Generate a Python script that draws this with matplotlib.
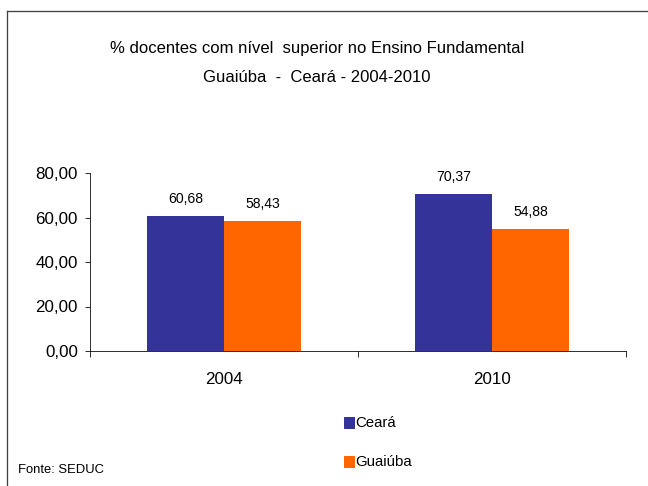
import numpy as np
import matplotlib.pyplot as plt
from matplotlib.lines import Line2D
from matplotlib.patches import Rectangle

plt.rcParams['font.family'] = ['Liberation Sans', 'DejaVu Sans']

# data
years = ['2004', '2010']
ceara = [60.68, 70.37]
guaiuba = [58.43, 54.88]
series_names = ['Ceará', 'Guaiúba']
colors = ['#333399', '#FF6600']
yticks = [0, 20, 40, 60, 80]

fig = plt.figure(figsize=(9, 6.75), dpi=72)
W, H = 648, 486

# outer frame (top and left edges visible)
fig.add_artist(Line2D([7 / W, 7 / W], [0, 1 - 10.5 / H], transform=fig.transFigure, color='#404040', lw=1.3))
fig.add_artist(Line2D([7 / W, 1], [1 - 10.5 / H, 1 - 10.5 / H], transform=fig.transFigure, color='#404040', lw=1.3))

ax = fig.add_axes([90 / W, 1 - 351 / H, (626 - 90) / W, (351 - 173) / H])

x = np.arange(len(years))
w = 0.288
b1 = ax.bar(x - w / 2, ceara, w, color=colors[0], label=series_names[0])
b2 = ax.bar(x + w / 2, guaiuba, w, color=colors[1], label=series_names[1])

for bars, vals in [(b1, ceara), (b2, guaiuba)]:
    for r, v in zip(bars, vals):
        ax.annotate(f'{v:.2f}'.replace('.', ','), (r.get_x() + r.get_width() / 2, v),
                    xytext=(0, 10), textcoords='offset points', ha='center', va='bottom', fontsize=14)

ax.set_xlim(-0.5, 1.5)
ax.set_ylim(0, 80)
ax.set_yticks(yticks)
ax.set_yticklabels([f'{t:.2f}'.replace('.', ',') for t in yticks], fontsize=17)
ax.set_xticks([-0.5, 0.5, 1.5])
ax.set_xticklabels([])
ax.set_xticks(x, minor=True)
ax.set_xticklabels(years, minor=True, fontsize=17)
ax.tick_params(axis='x', which='minor', length=0, pad=21)
ax.tick_params(axis='x', which='major', direction='out', length=6)
ax.tick_params(axis='y', direction='out', length=5, pad=7)
for s in ['top', 'right']:
    ax.spines[s].set_visible(False)

# titles
fig.text(317 / W, 1 - 48 / H, '% docentes com nível  superior no Ensino Fundamental', ha='center', va='center', fontsize=16.6)
fig.text(317 / W, 1 - 77 / H, 'Guaiúba  -  Ceará - 2004-2010', ha='center', va='center', fontsize=16.6)

# legend drawn manually
for i, (name, c) in enumerate(zip(series_names, colors)):
    yy = 423 + i * 39
    fig.add_artist(Rectangle((344 / W, 1 - (yy + 5) / H), 10 / W, 11 / H, transform=fig.transFigure, color=c))
    fig.text(355 / W, 1 - yy / H, name, ha='left', va='center', fontsize=15)

fig.text(18 / W, 1 - 470 / H, 'Fonte: SEDUC', ha='left', va='center', fontsize=13)

fig.savefig('out.png', dpi=72)
